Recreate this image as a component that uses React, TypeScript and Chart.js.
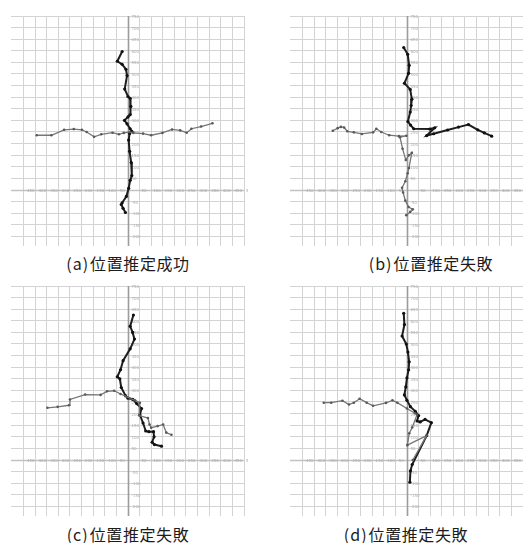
import { useEffect, useRef } from "react";
import { Chart, registerables } from "chart.js";

Chart.register(...registerables);

type Pt = [number, number];

// Estimated trajectories, in grid units (one grid cell = 1 unit)
// (a) successful estimate
const aDark: Pt[] = [
  [-0.5, 11.94], [-0.92, 11.1], [-0.5, 10.83], [-0.17, 10.4], [-0.08, 9.86], [-0.28, 8.7],
  [0, 8.06], [0.19, 7.9], [0.25, 7.2], [0.19, 6.5], [0, 6.3], [-0.3, 6.0], [-0.08, 5.7],
  [0.19, 5.28], [0.33, 5.06], [0.14, 4.86], [0.06, 4.3], [0.14, 3.33], [0.28, 2.36],
  [0.33, 1.25], [0.19, 0.83], [0.06, 0.14], [-0.14, -0.56], [-0.5, -1.1], [-0.58, -1.25],
  [-0.42, -1.58], [-0.22, -1.94],
];
const aLight: Pt[] = [
  [-7.86, 4.72], [-6.6, 4.72], [-5.5, 5.19], [-4.67, 5.25], [-3.97, 5.19], [-3.56, 5.0],
  [-2.92, 4.58], [-2.3, 4.8], [-1.33, 4.94], [-0.78, 4.8], [-0.36, 4.92], [0.14, 5.0],
  [0.47, 4.92], [1.3, 4.86], [2.0, 4.72], [2.97, 4.92], [3.8, 5.22], [4.5, 5.14],
  [5.06, 4.94], [5.47, 5.28], [6.3, 5.47], [7.28, 5.75],
];

// (b) failed estimate
const bDark: Pt[] = [
  [-0.28, 12.28], [0.06, 11.7], [0.19, 10.75], [0.14, 10.06], [-0.22, 9.2], [0.28, 8.67],
  [0.42, 7.83], [0.36, 7.28], [0.28, 6.72], [0.08, 5.9], [0.31, 5.6], [0.58, 5.28],
  [1.97, 5.25], [2.39, 5.36], [1.7, 4.69], [2.3, 4.85], [3.5, 5.17], [4.44, 5.42],
  [5.3, 5.64], [6.1, 5.19], [6.67, 4.92], [7.3, 4.64],
];
const bLight: Pt[] = [
  [-6.39, 5.11], [-5.97, 5.33], [-5.7, 5.44], [-5.42, 5.39], [-5.14, 5.06], [-4.58, 4.97],
  [-3.89, 4.83], [-2.92, 4.97], [-2.64, 5.28], [-2.22, 5.0], [-1.53, 4.72], [-0.69, 4.64],
  [-0.06, 4.67], [-0.6, 4.55], [-0.38, 3.56], [-0.1, 2.58], [0.17, 3.0], [0.42, 3.2],
  [0.17, 1.9], [0.06, 1.44], [-0.14, 0.75], [-0.42, 0.19], [-0.33, -0.22], [-0.14, -0.92],
  [0.14, -1.47], [0.5, -1.67], [0.28, -1.89], [-0.06, -2.17],
];

// (c) failed estimate
const cDark: Pt[] = [
  [0.47, 12.5], [0.19, 11.53], [0.4, 11.0], [0.56, 10.42], [0.19, 9.58], [-0.42, 8.56],
  [-0.64, 7.78], [-0.92, 7.17], [-0.7, 7.0], [-0.58, 6.25], [-0.22, 5.56], [0, 5.33],
  [0.42, 5.22], [0.75, 4.86], [1.17, 4.44], [1.03, 3.89], [1.3, 3.19], [1.53, 2.5],
  [1.8, 2.44], [2.2, 2.44], [2.25, 2.0], [2.08, 1.53], [2.28, 1.33], [2.89, 1.19],
];
const cLight: Pt[] = [
  [-6.94, 4.5], [-6.06, 4.58], [-5.08, 4.72], [-5.0, 5.22], [-3.69, 5.64], [-2.36, 5.61],
  [-1.8, 5.92], [-1.19, 5.97], [-0.64, 5.69], [-0.22, 5.5], [0.2, 5.3], [0.61, 5.14],
  [1.03, 4.94], [0.97, 3.83], [1.72, 3.61], [1.86, 3.06], [2.0, 2.78], [2.56, 2.92],
  [3.03, 3.06], [3.3, 2.36], [3.75, 2.17],
];

// (d) failed estimate
const dDark: Pt[] = [
  [-0.28, 12.64], [-0.22, 11.67], [-0.42, 10.69], [-0.06, 10.0], [0.08, 9.3], [0.19, 8.47],
  [0.14, 7.78], [0, 7.08], [-0.1, 6.3], [-0.22, 5.61], [0, 5.14], [0.3, 4.6], [0.72, 4.19],
  [1.0, 3.83], [0.87, 3.36], [1.14, 3.28], [1.56, 3.5], [2.1, 3.22], [1.7, 2.1],
  [0.45, -0.39], [0.3, -0.94], [0.25, -1.92],
];
const dLight: Pt[] = [
  [-7.17, 4.94], [-6.53, 4.94], [-5.56, 5.11], [-5.0, 4.78], [-4.58, 4.94], [-4.08, 5.28],
  [-3.47, 4.94], [-2.92, 4.67], [-1.81, 4.92], [-1.25, 5.14], [-0.83, 4.94], [0, 4.44],
  [0.69, 4.03], [0.87, 3.9], [0.45, 2.8], [0.2, 2.3], [0.03, 1.28], [1.7, 2.1], [0.5, 0.0],
];

const captionTags = ["(a)", "(b)", "(c)", "(d)"];
const captionTexts = ["位置推定成功", "位置推定失敗", "位置推定失敗", "位置推定失敗"];

// Grid positions and the small axis labels
const xGridValues = [-9, -8, -7, -6, -5, -4, -3, -2, -1, 0, 1, 2, 3, 4, 5, 6, 7, 8, 9, 10];
const yGridValues = [-4, -3, -2, -1, 0, 1, 2, 3, 4, 5, 6, 7, 8, 9, 10, 11, 12, 13, 14, 15];
const xTickLabels = [
  "-450", "-400", "-350", "-300", "-250", "-200", "-150", "-100", "-50", "",
  "50", "100", "150", "200", "250", "300", "350", "400", "450", "500",
];
const yTickLabels = [
  "-200", "-150", "-100", "-50", "", "50", "100", "150", "200", "250",
  "300", "350", "400", "450", "500", "550", "600", "650", "700", "750",
];

const X_MIN = -10.08;
const X_MAX = 10;
const Y_MIN = -4.83;
const Y_MAX = 15;

const axesPlugin = {
  id: "originAxes",
  beforeDatasetsDraw(chart: any) {
    const { ctx, chartArea, scales } = chart;
    const x0 = Math.round(scales.x.getPixelForValue(0)) + 0.5;
    const y0 = Math.round(scales.y.getPixelForValue(0)) + 0.5;
    ctx.save();
    // horizontal axis
    ctx.strokeStyle = "#c2c2c2";
    ctx.lineWidth = 1.4;
    ctx.beginPath();
    ctx.moveTo(chartArea.left, y0);
    ctx.lineTo(chartArea.right, y0);
    ctx.stroke();
    // vertical axis
    ctx.strokeStyle = "#9c9c9c";
    ctx.lineWidth = 1.6;
    ctx.beginPath();
    ctx.moveTo(x0, chartArea.top);
    ctx.lineTo(x0, chartArea.bottom);
    ctx.stroke();
    // tiny scale labels along both axes
    ctx.fillStyle = "#adadad";
    ctx.font = "4px 'DejaVu Sans'";
    ctx.textBaseline = "middle";
    ctx.textAlign = "left";
    xGridValues.forEach((v, i) => {
      const t = xTickLabels[i];
      if (!t) return;
      ctx.fillText(t, scales.x.getPixelForValue(v) + 2, y0);
    });
    yGridValues.forEach((v, i) => {
      const t = yTickLabels[i];
      if (!t) return;
      ctx.fillText(t, x0 + 3, scales.y.getPixelForValue(v) + 1);
    });
    ctx.restore();
  },
};

function gridAxis(min: number, max: number, values: number[]) {
  return {
    type: "linear" as const,
    min,
    max,
    afterBuildTicks: (scale: any) => {
      scale.ticks = values.map((v) => ({ value: v }));
    },
    ticks: { display: false },
    grid: {
      drawTicks: false,
      color: (c: any) => (c.tick && c.tick.value === 0 ? "rgba(0,0,0,0)" : "#d3d3d3"),
      lineWidth: 1,
    },
    border: { display: false },
  };
}

function Panel({ dark, light, left, top }: { dark: Pt[]; light: Pt[]; left: number; top: number }) {
  const ref = useRef<HTMLCanvasElement>(null);
  useEffect(() => {
    if (!ref.current) return;
    const chart = new Chart(ref.current, {
      type: "scatter",
      data: {
        datasets: [
          {
            data: light.map(([x, y]) => ({ x, y })),
            showLine: true,
            borderColor: "#767676",
            borderWidth: 1.3,
            pointRadius: 1.3,
            pointBackgroundColor: "#5a5a5a",
            pointBorderWidth: 0,
          },
          {
            data: dark.map(([x, y]) => ({ x, y })),
            showLine: true,
            borderColor: "#1e1e1e",
            borderWidth: 2,
            pointRadius: 1.6,
            pointBackgroundColor: "#111",
            pointBorderWidth: 0,
          },
        ],
      },
      options: {
        animation: false,
        responsive: false,
        maintainAspectRatio: false,
        events: [],
        layout: { padding: 0 },
        plugins: { legend: { display: false }, tooltip: { enabled: false } },
        scales: {
          x: gridAxis(X_MIN, X_MAX, xGridValues),
          y: gridAxis(Y_MIN, Y_MAX, yGridValues),
        },
      } as any,
      plugins: [axesPlugin],
    });
    return () => chart.destroy();
  }, [dark, light]);
  return (
    <canvas
      ref={ref}
      width={241}
      height={238}
      style={{ position: "absolute", left, top, width: 241, height: 238 }}
    />
  );
}

function Caption({ tag, text, cx, cy }: { tag: string; text: string; cx: number; cy: number }) {
  return (
    <div
      style={{
        position: "absolute",
        left: cx - 120,
        top: cy - 11,
        width: 240,
        height: 22,
        lineHeight: "22px",
        textAlign: "center",
        fontFamily: "'Noto Sans CJK JP', 'Noto Sans', sans-serif",
        fontSize: 16,
        color: "#1c1c1c",
        whiteSpace: "nowrap",
      }}
    >
      <span style={{ letterSpacing: 1, marginRight: 1 }}>{tag}</span>
      <span style={{ letterSpacing: 0.6 }}>{text}</span>
    </div>
  );
}

export default function App() {
  return (
    <div
      style={{
        position: "absolute",
        left: 0,
        top: 0,
        width: 523,
        height: 543,
        overflow: "hidden",
        background: "#fff",
      }}
    >
      <Panel dark={aDark} light={aLight} left={7} top={12} />
      <Panel dark={bDark} light={bLight} left={286} top={12} />
      <Panel dark={cDark} light={cLight} left={7} top={282} />
      <Panel dark={dDark} light={dLight} left={286} top={282} />
      <Caption tag={captionTags[0]} text={captionTexts[0]} cx={128} cy={263} />
      <Caption tag={captionTags[1]} text={captionTexts[1]} cx={431} cy={263} />
      <Caption tag={captionTags[2]} text={captionTexts[2]} cx={128} cy={534} />
      <Caption tag={captionTags[3]} text={captionTexts[3]} cx={406} cy={534} />
    </div>
  );
}
